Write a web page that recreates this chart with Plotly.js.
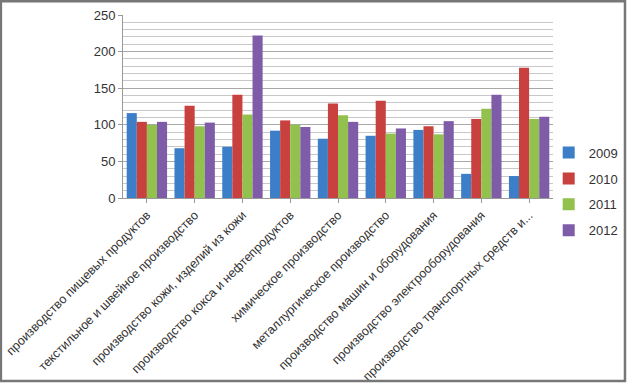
<!DOCTYPE html>
<html><head><meta charset="utf-8">
<script src="https://cdn.plot.ly/plotly-3.0.1.min.js"></script>
<style>body{margin:0;background:#fff}#c{width:627px;height:383px}</style>
</head><body><div id="c"></div>
<script>
const categories = [
  "производство пищевых продуктов",
  "текстильное и швейное производство",
  "производство кожи, изделий из кожи",
  "производство кокса и нефтепродуктов",
  "химическое производство",
  "металлургическое производство",
  "производство машин и оборудования",
  "производство электрооборудования",
  "производство транспортных средств и..."
];
const years = ["2009", "2010", "2011", "2012"];
const v2009 = [116, 68, 70, 92, 81, 85, 93, 33, 30];
const v2010 = [104, 126, 141, 106, 129, 133, 98, 108, 178];
const v2011 = [100, 98, 114, 100, 113, 88, 87, 122, 108];
const v2012 = [104, 103, 222, 97, 104, 95, 105, 141, 111];
const colors = ["#3C7FC8", "#C8413E", "#92C14E", "#7E5CA8"];
const series = [v2009, v2010, v2011, v2012];

const data = series.map((vals, i) => ({
  type: "bar", name: years[i], x: categories, y: vals,
  legendgroup: "g" + i,
  marker: {color: colors[i]}
}));

const layout = {
  width: 627, height: 383,
  margin: {l: 123, r: 74, t: 15, b: 185, autoexpand: false},
  paper_bgcolor: "#fff", plot_bgcolor: "#fff",
  bargap: 0.155, bargroupgap: 0,
  font: {family: "Liberation Sans, Arial, sans-serif", color: "#333"},
  xaxis: {
    type: "category", tickangle: -45, tickfont: {size: 12.5, color: "#333"},
    showline: true, linecolor: "#999", ticks: "outside", ticklen: 4, tickcolor: "#999",
    showgrid: false
  },
  yaxis: {
    range: [0, 250], dtick: 50, tickfont: {size: 13, color: "#333"},
    showline: true, linecolor: "#999", ticks: "outside", ticklen: 4, tickcolor: "#999",
    gridcolor: "#a8a8a8", gridwidth: 1,
    minor: {dtick: 10, showgrid: true, gridcolor: "#c8c8c8", gridwidth: 1},
    zeroline: false
  },
  legend: {
    x: 0.99, xanchor: "left", y: 0.33, yanchor: "top",
    traceorder: "grouped",
    font: {size: 13, color: "#333"}, tracegroupgap: 6, itemwidth: 30,
    bgcolor: "rgba(0,0,0,0)"
  },
  shapes: [{
    type: "rect", xref: "paper", yref: "paper",
    x0: -0.284, x1: 1.1674, y0: -1.0, y1: 1.075,
    line: {color: "#777", width: 2.5}
  }]
};
Plotly.newPlot("c", data, layout, {displayModeBar: false, staticPlot: true});
</script></body></html>
